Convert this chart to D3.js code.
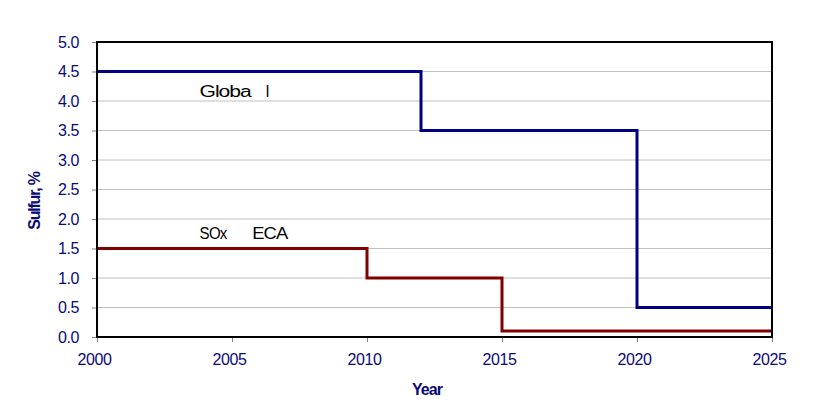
<!DOCTYPE html>
<html><head><meta charset="utf-8">
<script src="https://cdn.jsdelivr.net/npm/d3@7"></script>
<style>body{margin:0;background:#fff;}svg{display:block;font-family:"Liberation Sans",Arial,sans-serif;}</style>
</head><body><svg id="c" width="828" height="413"></svg>
<script>
const years = [2000, 2012, 2020, 2025];
const globalVals = [4.5, 3.5, 0.5, 0.5];
const ecaYears = [2000, 2010, 2015, 2025];
const ecaVals = [1.5, 1.0, 0.1, 0.1];
const yTicks = [0, 0.5, 1, 1.5, 2, 2.5, 3, 3.5, 4, 4.5, 5];
const xTicks = [2000, 2005, 2010, 2015, 2020, 2025];
const labels = {y: "Sulfur, %", x: "Year", g1: "Globa", g2: "l", e1: "SOx", e2: "ECA"};

const svg = d3.select("#c");
const L = 97, R = 772, T = 42, B = 337;
const x = d3.scaleLinear().domain([2000, 2025]).range([L, R]);
const y = d3.scaleLinear().domain([0, 5]).range([B, T]);
const navy = "#0a0a78";

// gridlines
svg.append("g").selectAll("line").data(yTicks.filter(d => d > 0 && d < 5)).join("line")
  .attr("x1", L).attr("x2", R).attr("y1", d => y(d)).attr("y2", d => y(d))
  .attr("stroke", "#c0c0c0").attr("stroke-width", 1);

// axes
const ya = svg.append("g").attr("transform", `translate(${L},0)`)
  .call(d3.axisLeft(y).tickValues(yTicks).tickFormat(d3.format(".1f")).tickSize(5).tickPadding(13));
const xa = svg.append("g").attr("transform", `translate(0,${B})`)
  .call(d3.axisBottom(x).tickValues(xTicks).tickFormat(d3.format("d")).tickSize(5).tickPadding(12));
[ya, xa].forEach(g => {
  g.select(".domain").remove();
  g.selectAll(".tick line").attr("stroke", "#808080");
  g.selectAll(".tick text").attr("fill", navy).attr("font-size", 16)
    .attr("font-family", "Liberation Sans, Arial, sans-serif").attr("letter-spacing", -0.4);
});
xa.selectAll(".tick text").attr("dx", -3);

// series
const line = d3.line().x(d => x(d[0])).y(d => y(d[1])).curve(d3.curveStepAfter);
svg.append("path").datum(years.map((d, i) => [d, globalVals[i]])).attr("d", line)
  .attr("fill", "none").attr("stroke", "#000080").attr("stroke-width", 3);
svg.append("path").datum(ecaYears.map((d, i) => [d, ecaVals[i]])).attr("d", line)
  .attr("fill", "none").attr("stroke", "#800000").attr("stroke-width", 3);

// border
svg.append("rect").attr("x", L).attr("y", T).attr("width", R - L).attr("height", B - T)
  .attr("fill", "none").attr("stroke", "#000").attr("stroke-width", 2);

// annotations
const ann = (t, xx, yy, len) => {
  const s = svg.append("text").attr("x", xx).attr("y", yy).attr("font-size", 16).attr("fill", "#000")
    .attr("letter-spacing", -0.8).text(t);
  if (len) s.attr("textLength", len).attr("lengthAdjust", "spacingAndGlyphs");
};
ann(labels.g1, x(2003.8), 97, 51);
ann(labels.g2, x(2006.25), 97);
ann(labels.e1, x(2003.8), 239, 27);
ann(labels.e2, x(2005.75), 239, 35);

// axis titles
svg.append("text").attr("x", 427).attr("y", 395).attr("text-anchor", "middle")
  .attr("font-size", 16).attr("font-weight", "bold").attr("fill", navy).attr("letter-spacing", -0.9).text(labels.x);
svg.append("text").attr("transform", "translate(40,201) rotate(-90)").attr("text-anchor", "middle")
  .attr("font-size", 16).attr("font-weight", "bold").attr("fill", navy).attr("letter-spacing", -1.2).text(labels.y);
</script></body></html>
